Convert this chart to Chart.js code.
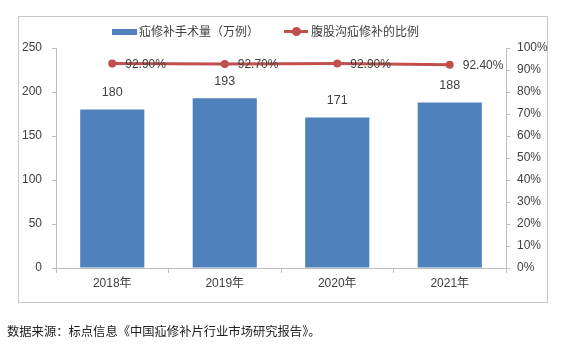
<!DOCTYPE html>
<html><head><meta charset="utf-8">
<script src="https://cdn.jsdelivr.net/npm/chart.js@4.4.1/dist/chart.umd.min.js"></script>
<style>
body{margin:0;background:#fff;width:564px;height:357px;overflow:hidden;position:relative;font-family:"Liberation Sans","Noto Sans CJK SC",sans-serif;}
#frame{position:absolute;left:18px;top:16px;width:528px;height:285px;border:1px solid #c8c8c8;}
#c{position:absolute;left:0;top:0;}
.lg{position:absolute;font-size:12px;color:#404040;line-height:14px;white-space:nowrap;font-family:"Noto Sans CJK SC",sans-serif;}
#foot{position:absolute;left:7px;top:322px;font-size:12.3px;color:#222;white-space:nowrap;font-family:"Noto Sans CJK SC",sans-serif;}
</style></head>
<body>
<div id="frame"></div>
<canvas id="c" width="564" height="357"></canvas>
<div style="position:absolute;left:112px;top:29px;width:25px;height:6px;background:#4F81BD"></div>
<div class="lg" style="left:139px;top:24px">疝修补手术量（万例）</div>
<div style="position:absolute;left:284px;top:30px;width:24px;height:3px;background:#C0504D"></div>
<div style="position:absolute;left:292px;top:27px;width:9px;height:9px;border-radius:50%;background:#C0504D"></div>
<div class="lg" style="left:311px;top:24px">腹股沟疝修补的比例</div>
<div id="foot">数据来源：标点信息《中国疝修补片行业市场研究报告》。</div>
<script>
const categories = ['2018年','2019年','2020年','2021年'];
const volumes = [180,193,171,188];
const ratios = [92.9,92.7,92.9,92.4];
const ratioLabels = ['92.90%','92.70%','92.90%','92.40%'];

const labelPlugin = {
  id:'labels',
  afterDatasetsDraw(chart){
    const ctx = chart.ctx;
    ctx.save();
    ctx.fillStyle = '#404040';
    ctx.textBaseline = 'middle';
    ctx.font = '12.5px "Liberation Sans", Arial, sans-serif';
    const bm = chart.getDatasetMeta(1);
    ctx.textAlign = 'center';
    bm.data.forEach((el,i)=>{ ctx.fillText(String(volumes[i]), el.x, el.y - 17); });
    ctx.font = '12px "Liberation Sans", Arial, sans-serif';
    const lm = chart.getDatasetMeta(0);
    ctx.textAlign = 'left';
    lm.data.forEach((el,i)=>{ ctx.fillText(ratioLabels[i], el.x + 13, el.y + 1); });
    ctx.restore();
  }
};

new Chart(document.getElementById('c'), {
  data:{
    labels:categories,
    datasets:[
      {type:'line',label:'腹股沟疝修补的比例',data:ratios,yAxisID:'y1',borderColor:'#C0504D',backgroundColor:'#C0504D',borderWidth:3,pointRadius:4,pointBackgroundColor:'#C0504D',pointBorderWidth:0,order:0},
      {type:'bar',label:'疝修补手术量（万例）',data:volumes,yAxisID:'y',backgroundColor:'#4F81BD',barPercentage:0.57,categoryPercentage:1,order:1}
    ]
  },
  options:{
    responsive:false,animation:false,
    layout:{padding:{top:48,left:0,right:0,bottom:0}},
    plugins:{legend:{display:false},tooltip:{enabled:false}},
    scales:{
      x:{
        grid:{display:true,drawOnChartArea:false,tickLength:5,color:'#bfbfbf',offset:true},
        border:{color:'#bfbfbf'},
        ticks:{color:'#404040',font:{size:12,family:'"Liberation Sans","Noto Sans CJK SC",sans-serif'},padding:3},
        afterFit(s){s.height=89;}
      },
      y:{
        position:'left',min:0,max:250,
        ticks:{stepSize:50,color:'#404040',font:{size:12,family:'"Liberation Sans",Arial,sans-serif'},padding:10},
        grid:{drawOnChartArea:false,tickLength:4,color:'#bfbfbf'},
        border:{color:'#bfbfbf'},
        afterFit(s){s.width=56;}
      },
      y1:{
        position:'right',min:0,max:100,
        ticks:{stepSize:10,color:'#404040',font:{size:12,family:'"Liberation Sans",Arial,sans-serif'},padding:7,callback:v=>v+'%'},
        grid:{drawOnChartArea:false,tickLength:4,color:'#bfbfbf'},
        border:{color:'#bfbfbf'},
        afterFit(s){s.width=58;}
      }
    }
  },
  plugins:[labelPlugin]
});
</script>
</body></html>
